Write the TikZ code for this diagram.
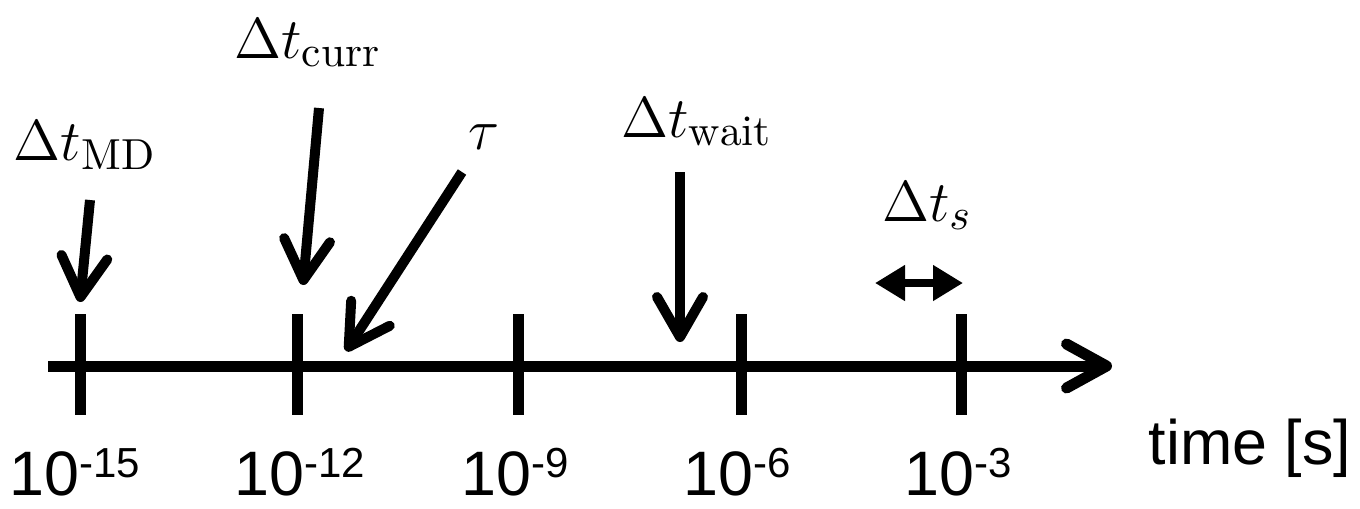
\documentclass[tikz,border=0pt]{standalone}
\usepackage{fontspec}
\newfontfamily\arialfont{Liberation Sans}
\usetikzlibrary{arrows.meta}
\newcommand{\tenpow}[1]{10\raisebox{4.5pt}{\fontsize{10.5}{12}\selectfont #1}}
\tikzset{
  axisline/.style={line width=2.75pt, -{Straight Barb[length=10pt,width=11pt,line cap=round,line join=round]}},
  tickline/.style={line width=2.75pt},
  pointer/.style={line width=2.5pt, -{Straight Barb[length=10pt,width=11.5pt,line cap=round,line join=round]}},
  span/.style={line width=2pt, {Triangle[length=7.5pt,width=8.5pt]}-{Triangle[length=7.5pt,width=8.5pt]}},
  mathlabel/.style={font=\fontsize{15.5}{18}\selectfont, inner sep=0pt},
  numlabel/.style={font=\arialfont\fontsize{15.7}{18}\selectfont, inner sep=0pt},
}
\begin{document}
\begin{tikzpicture}[x=0.25pt,y=-0.25pt]
\useasboundingbox (0,0) rectangle (1360,508);
% axis
\coordinate (a0) at (48,366);
\coordinate (a1) at (1112,366);
\draw[axisline] (a0) -- (a1);
% ticks
\foreach \n/\x in {t1/80, t2/297, t3/518, t4/741, t5/961}{
  \coordinate (\n top) at (\x,314);
  \coordinate (\n bot) at (\x,415);
  \draw[tickline] (\n top) -- (\n bot);
}
% tick labels
\node[numlabel, anchor=base] (l1) at (75,495) {\tenpow{-15}};
\node[numlabel, anchor=base] (l2) at (300,495) {\tenpow{-12}};
\node[numlabel, anchor=base] (l3) at (515,495) {\tenpow{-9}};
\node[numlabel, anchor=base] (l4) at (737,495) {\tenpow{-6}};
\node[numlabel, anchor=base] (l5) at (958,495) {\tenpow{-3}};
\node[numlabel, anchor=base west] (ltime) at (1148,464) {time [s]};
% math labels
\node[mathlabel, anchor=base] (md) at (85,160) {$\Delta t_{\mathrm{MD}}$};
\node[mathlabel, anchor=base] (curr) at (308,58) {$\Delta t_{\mathrm{curr}}$};
\node[mathlabel, anchor=base] (tau) at (484,149) {$\tau$};
\node[mathlabel, anchor=base] (wait) at (697,137) {$\Delta t_{\mathrm{wait}}$};
\node[mathlabel, anchor=base] (ts) at (927,221) {$\Delta t_{s}$};
% pointers
\coordinate (p1s) at (90,200);
\coordinate (p1e) at (80,302);
\draw[pointer] (p1s) -- (p1e);
\coordinate (p2s) at (319,108);
\coordinate (p2e) at (303,285);
\draw[pointer] (p2s) -- (p2e);
\coordinate (p3s) at (462,172);
\coordinate (p3e) at (346,351);
\draw[pointer] (p3s) -- (p3e);
\coordinate (p4s) at (680,172);
\coordinate (p4e) at (680,342);
\draw[pointer] (p4s) -- (p4e);
\coordinate (p5s) at (875,283);
\coordinate (p5e) at (963,283);
\draw[span] (p5s) -- (p5e);
\end{tikzpicture}
\end{document}
